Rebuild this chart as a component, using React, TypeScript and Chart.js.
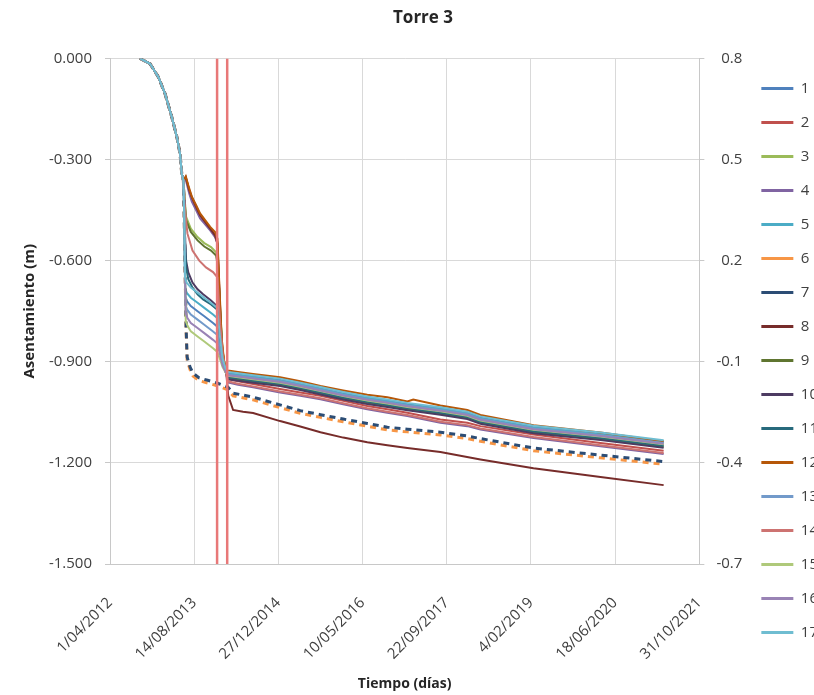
import { useEffect, useRef } from 'react';
import { Chart, registerables } from 'chart.js';

Chart.register(...registerables);

type Pt = [number, number];

// x = days since 1/04/2012, y = settlement (m)
const X_TICK_LABELS = ['1/04/2012', '14/08/2013', '27/12/2014', '10/05/2016', '22/09/2017', '4/02/2019', '18/06/2020', '31/10/2021'];
const SERIES_LABELS = ['1', '2', '3', '4', '5', '6', '7', '8', '9', '10', '11', '12', '13', '14', '15', '16', '17'];
const COLORS = ['#4F81BD', '#C0504D', '#9BBB59', '#8064A2', '#4BACC6', '#F79646', '#2C4D75', '#772C2A', '#5F7530', '#4D3B62', '#276A7C', '#B65708', '#729ACA', '#CD7371', '#AFC97A', '#9983B5', '#6FBDD1'];
const DASHED = [false, false, false, false, false, true, true, false, false, false, false, false, false, false, false, false, false];
const RED_LINE_DAYS = [636, 696];

const TRUNK: Pt[] = [[178, 0], [238, -0.016], [287, -0.055], [327, -0.105], [367, -0.174], [397, -0.233], [416, -0.283], [426, -0.342], [436, -0.362]];

const S1: Pt[] = [...TRUNK, [440, -0.45], [447, -0.705], [457, -0.72], [480, -0.735], [520, -0.75], [560, -0.765], [612, -0.785], [636, -0.795], [652, -0.85], [668, -0.9], [685, -0.922],
  [700, -0.934], [760, -0.938], [850, -0.944], [1010, -0.954], [1130, -0.966], [1250, -0.979], [1385, -0.994], [1528, -1.007], [1647, -1.016], [1766, -1.026], [1962, -1.039], [2122, -1.052], [2200, -1.066], [2515, -1.094], [2913, -1.114], [3288, -1.137]];
const S2: Pt[] = [...TRUNK, [450, -0.355], [470, -0.39], [486, -0.415], [511, -0.44], [535, -0.465], [565, -0.485], [595, -0.505], [624, -0.525], [638, -0.545], [650, -0.69], [663, -0.84], [678, -0.905], [692, -0.935],
  [700, -0.951], [760, -0.958], [850, -0.966], [1010, -0.981], [1130, -0.991], [1250, -1.001], [1385, -1.016], [1528, -1.031], [1647, -1.041], [1766, -1.051], [1962, -1.071], [2122, -1.081], [2200, -1.091], [2515, -1.116], [2913, -1.141], [3288, -1.164]];
const S3: Pt[] = [...TRUNK, [444, -0.42], [452, -0.47], [480, -0.505], [520, -0.53], [560, -0.548], [600, -0.56], [630, -0.575], [642, -0.61], [655, -0.75], [668, -0.865], [685, -0.918],
  [700, -0.944], [760, -0.948], [850, -0.954], [1010, -0.964], [1130, -0.976], [1250, -0.989], [1385, -1.004], [1528, -1.017], [1647, -1.026], [1766, -1.036], [1962, -1.049], [2122, -1.062], [2200, -1.076], [2515, -1.104], [2913, -1.124], [3288, -1.147]];
const S4: Pt[] = [...TRUNK, [450, -0.36], [470, -0.4], [486, -0.425], [511, -0.45], [535, -0.475], [565, -0.492], [595, -0.51], [624, -0.53], [638, -0.55], [650, -0.7], [663, -0.845], [678, -0.91], [692, -0.94],
  [700, -0.961], [760, -0.968], [850, -0.976], [1010, -0.991], [1130, -1.001], [1250, -1.011], [1385, -1.026], [1528, -1.041], [1647, -1.051], [1766, -1.061], [1962, -1.081], [2122, -1.091], [2200, -1.101], [2515, -1.126], [2913, -1.151], [3288, -1.174]];
const S5: Pt[] = [...TRUNK, [440, -0.45], [446, -0.68], [455, -0.695], [480, -0.71], [520, -0.725], [560, -0.74], [612, -0.76], [636, -0.77], [652, -0.84], [668, -0.895], [685, -0.92],
  [700, -0.936], [760, -0.94], [850, -0.946], [1010, -0.956], [1130, -0.968], [1250, -0.981], [1385, -0.996], [1528, -1.009], [1647, -1.018], [1766, -1.028], [1962, -1.041], [2122, -1.054], [2200, -1.068], [2515, -1.096], [2913, -1.116], [3288, -1.139]];
const S6: Pt[] = [...TRUNK, [440, -0.45], [446, -0.63], [452, -0.81], [458, -0.894], [475, -0.923], [493, -0.942], [530, -0.956], [580, -0.963], [636, -0.971], [700, -0.983], [731, -1.001],
  [850, -1.013], [1010, -1.036], [1130, -1.053], [1250, -1.065], [1385, -1.078], [1528, -1.091], [1647, -1.102], [1766, -1.108], [1962, -1.117], [2122, -1.128], [2200, -1.136], [2515, -1.164], [2913, -1.185], [3288, -1.204]];
const S7: Pt[] = [...TRUNK, [440, -0.45], [446, -0.62], [452, -0.8], [458, -0.886], [475, -0.915], [493, -0.934], [530, -0.948], [580, -0.955], [636, -0.963], [700, -0.975], [731, -0.993],
  [850, -1.005], [1010, -1.028], [1130, -1.045], [1250, -1.057], [1385, -1.07], [1528, -1.083], [1647, -1.094], [1766, -1.1], [1962, -1.109], [2122, -1.12], [2200, -1.128], [2515, -1.156], [2913, -1.177], [3288, -1.196]];
const S8: Pt[] = [...TRUNK, [450, -0.352], [470, -0.39], [486, -0.412], [511, -0.44], [535, -0.465], [565, -0.485], [595, -0.505], [624, -0.525], [638, -0.55], [650, -0.71], [663, -0.86], [678, -0.915], [692, -0.94], [702, -1.0], [731, -1.043],
  [790, -1.048], [850, -1.052], [1010, -1.076], [1130, -1.092], [1250, -1.109], [1385, -1.125], [1528, -1.139], [1647, -1.148], [1766, -1.156], [1962, -1.168], [2200, -1.19], [2515, -1.216], [2913, -1.242], [3288, -1.266]];
const S9: Pt[] = [...TRUNK, [444, -0.43], [452, -0.48], [480, -0.515], [520, -0.54], [560, -0.558], [600, -0.57], [630, -0.585], [642, -0.62], [655, -0.76], [668, -0.87], [685, -0.92],
  [700, -0.949], [760, -0.953], [850, -0.959], [1010, -0.969], [1130, -0.981], [1250, -0.994], [1385, -1.009], [1528, -1.022], [1647, -1.031], [1766, -1.041], [1962, -1.054], [2122, -1.067], [2200, -1.081], [2515, -1.109], [2913, -1.129], [3288, -1.152]];
const S10: Pt[] = [...TRUNK, [440, -0.42], [445, -0.52], [452, -0.6], [465, -0.635], [490, -0.665], [520, -0.685], [553, -0.7], [600, -0.718], [636, -0.735], [652, -0.81], [668, -0.885], [685, -0.92],
  [700, -0.952], [760, -0.956], [850, -0.962], [1010, -0.972], [1130, -0.984], [1250, -0.997], [1385, -1.012], [1528, -1.025], [1647, -1.034], [1766, -1.044], [1962, -1.057], [2122, -1.07], [2200, -1.084], [2515, -1.112], [2913, -1.132], [3288, -1.155]];
const S11: Pt[] = [...TRUNK, [440, -0.42], [445, -0.54], [452, -0.62], [465, -0.655], [490, -0.68], [520, -0.7], [553, -0.715], [600, -0.73], [636, -0.745], [652, -0.82], [668, -0.89], [685, -0.92],
  [700, -0.946], [760, -0.95], [850, -0.956], [1010, -0.966], [1130, -0.978], [1250, -0.991], [1385, -1.006], [1528, -1.019], [1647, -1.028], [1766, -1.038], [1962, -1.051], [2122, -1.064], [2200, -1.078], [2515, -1.106], [2913, -1.126], [3288, -1.149]];
const S12: Pt[] = [...TRUNK, [450, -0.35], [470, -0.385], [486, -0.41], [511, -0.435], [535, -0.46], [565, -0.48], [595, -0.5], [624, -0.515], [638, -0.535], [650, -0.68], [663, -0.83], [678, -0.9], [692, -0.925],
  [700, -0.926], [760, -0.93], [850, -0.936], [1010, -0.946], [1130, -0.958], [1250, -0.972], [1385, -0.985], [1528, -0.998], [1647, -1.005], [1766, -1.018], [1801, -1.012], [1962, -1.03], [2122, -1.043], [2200, -1.058], [2515, -1.088], [2913, -1.11], [3288, -1.136]];
const S13: Pt[] = [...TRUNK, [441, -0.46], [448, -0.73], [458, -0.745], [480, -0.76], [520, -0.775], [560, -0.79], [612, -0.81], [636, -0.82], [652, -0.86], [668, -0.905], [685, -0.925],
  [700, -0.938], [760, -0.942], [850, -0.948], [1010, -0.958], [1130, -0.97], [1250, -0.983], [1385, -0.998], [1528, -1.011], [1647, -1.02], [1766, -1.03], [1962, -1.043], [2122, -1.056], [2200, -1.07], [2515, -1.098], [2913, -1.118], [3288, -1.141]];
const S14: Pt[] = [...TRUNK, [446, -0.45], [460, -0.52], [490, -0.57], [530, -0.6], [570, -0.62], [612, -0.634], [638, -0.65], [655, -0.79], [670, -0.88], [688, -0.93],
  [700, -0.958], [760, -0.965], [850, -0.973], [1010, -0.988], [1130, -0.998], [1250, -1.008], [1385, -1.023], [1528, -1.038], [1647, -1.048], [1766, -1.058], [1962, -1.078], [2122, -1.088], [2200, -1.098], [2515, -1.123], [2913, -1.148], [3288, -1.171]];
const S15: Pt[] = [...TRUNK, [441, -0.46], [450, -0.78], [462, -0.795], [480, -0.81], [520, -0.825], [560, -0.84], [612, -0.86], [636, -0.87], [652, -0.89], [668, -0.915], [685, -0.93],
  [700, -0.942], [760, -0.946], [850, -0.952], [1010, -0.962], [1130, -0.974], [1250, -0.987], [1385, -1.002], [1528, -1.015], [1647, -1.024], [1766, -1.034], [1962, -1.047], [2122, -1.06], [2200, -1.074], [2515, -1.102], [2913, -1.122], [3288, -1.145]];
const S16: Pt[] = [...TRUNK, [441, -0.46], [449, -0.755], [460, -0.77], [480, -0.785], [520, -0.8], [560, -0.815], [612, -0.835], [636, -0.845], [652, -0.875], [668, -0.91], [685, -0.928],
  [700, -0.94], [760, -0.944], [850, -0.95], [1010, -0.96], [1130, -0.972], [1250, -0.985], [1385, -1.0], [1528, -1.013], [1647, -1.022], [1766, -1.032], [1962, -1.045], [2122, -1.058], [2200, -1.072], [2515, -1.1], [2913, -1.12], [3288, -1.143]];
const S17: Pt[] = [...TRUNK, [440, -0.45], [446, -0.65], [455, -0.665], [480, -0.68], [520, -0.695], [560, -0.71], [612, -0.73], [636, -0.74], [652, -0.82], [668, -0.89], [685, -0.918],
  [700, -0.93], [760, -0.934], [850, -0.94], [1010, -0.95], [1130, -0.962], [1250, -0.975], [1385, -0.99], [1528, -1.003], [1647, -1.012], [1766, -1.022], [1962, -1.035], [2122, -1.048], [2200, -1.062], [2515, -1.09], [2913, -1.11], [3288, -1.133]];

const SERIES: Pt[][] = [S1, S2, S3, S4, S5, S6, S7, S8, S9, S10, S11, S12, S13, S14, S15, S16, S17];

const FONT = "'Open Sans', sans-serif";
const CW = 828;
const CH = 721;

export default function App() {
  const ref = useRef<HTMLCanvasElement>(null);

  useEffect(() => {
    const canvas = ref.current;
    if (!canvas) return;

    const datasets: any[] = SERIES.map((s, i) => ({
      label: SERIES_LABELS[i],
      data: s.map(([x, y]) => ({ x, y })),
      borderColor: COLORS[i],
      backgroundColor: COLORS[i],
      borderWidth: DASHED[i] ? 3 : 2,
      borderDash: DASHED[i] ? [6, 5] : [],
      pointRadius: 0,
      tension: 0,
      fill: false,
      order: -i,
      yAxisID: 'y',
    }));
    RED_LINE_DAYS.forEach((d, k) => {
      datasets.push({
        label: 'red' + k,
        data: [{ x: d, y: 0 }, { x: d, y: -1.5 }],
        borderColor: '#E87878',
        backgroundColor: '#E87878',
        borderWidth: 2.5,
        pointRadius: 0,
        fill: false,
        order: -100,
        yAxisID: 'y',
      });
    });

    const chart = new Chart(canvas, {
      type: 'line',
      data: { datasets },
      options: {
        responsive: false,
        animation: false,
        layout: { padding: { left: 18, right: 0, top: 0, bottom: 0 } },
        plugins: {
          tooltip: { enabled: false },
          title: {
            display: true,
            text: 'Torre 3',
            color: '#262626',
            font: { family: FONT, size: 17, weight: 'bold' },
            padding: { top: 8, bottom: 30 },
          },
          legend: {
            position: 'right',
            align: 'center',
            labels: {
              boxWidth: 32,
              boxHeight: 3,
              padding: 19,
              color: '#404040',
              font: { family: FONT, size: 15 },
              filter: (item: any) => item.datasetIndex < SERIES.length,
              sort: (a: any, b: any) => a.datasetIndex - b.datasetIndex,
              generateLabels: (c: any) =>
                (Chart.defaults.plugins.legend.labels.generateLabels as any)(c).map((l: any) => ({
                  ...l,
                  lineWidth: 0,
                  lineDash: [],
                })),
            },
          },
        },
        scales: {
          x: {
            type: 'linear',
            min: 0,
            max: 3500,
            ticks: {
              stepSize: 500,
              autoSkip: false,
              minRotation: 45,
              maxRotation: 45,
              padding: 30,
              color: '#404040',
              font: { family: FONT, size: 15 },
              callback: (v: any) => X_TICK_LABELS[Math.round(Number(v) / 500)] ?? '',
            },
            grid: { color: '#D9D9D9', drawTicks: false },
            border: { color: '#C8C8C8' },
            title: {
              display: true,
              text: 'Tiempo (días)',
              color: '#262626',
              font: { family: FONT, size: 14, weight: 'bold' },
              padding: { top: 0, bottom: 29 },
            },
            afterFit: (s: any) => {
              s.height = 157;
            },
          },
          y: {
            type: 'linear',
            position: 'left',
            min: -1.5,
            max: 0,
            ticks: {
              stepSize: 0.3,
              padding: 13,
              color: '#404040',
              font: { family: FONT, size: 15 },
              callback: (v: any) => Number(v).toFixed(3),
            },
            grid: { color: '#D9D9D9', tickLength: 5, tickColor: '#C8C8C8' },
            border: { color: '#C8C8C8' },
            title: {
              display: true,
              text: 'Asentamiento (m)',
              color: '#262626',
              font: { family: FONT, size: 15, weight: 'bold' },
              padding: { top: 3, bottom: 0 },
            },
            afterFit: (s: any) => {
              s.width = 92;
            },
          },
          y1: {
            type: 'linear',
            position: 'right',
            min: -0.7,
            max: 0.8,
            ticks: {
              stepSize: 0.3,
              padding: 0,
              crossAlign: 'far',
              color: '#404040',
              font: { family: FONT, size: 15 },
              callback: (v: any) => Number(v).toFixed(1),
            },
            grid: { drawOnChartArea: false, tickLength: 5, tickColor: '#C8C8C8' },
            border: { color: '#C8C8C8' },
            afterFit: (s: any) => {
              s.width = 43;
            },
          },
        },
      } as any,
    });

    return () => chart.destroy();
  }, []);

  return (
    <div style={{ position: 'fixed', left: 0, top: 0, width: 814, height: 695, overflow: 'hidden', background: '#fff' }}>
      <canvas ref={ref} width={CW} height={CH} style={{ display: 'block', width: CW, height: CH }} />
    </div>
  );
}
